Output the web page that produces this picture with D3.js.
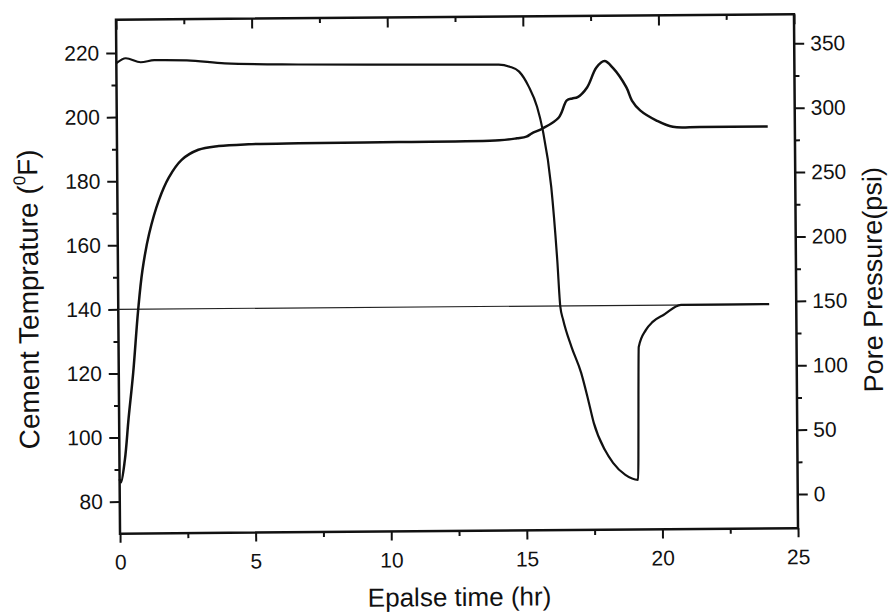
<!DOCTYPE html>
<html>
<head>
<meta charset="utf-8">
<script src="https://cdn.jsdelivr.net/npm/d3@7"></script>
<style>
  html, body { margin: 0; padding: 0; background: #fff; }
  svg { display: block; }
  text { font-family: "Liberation Sans", Arial, sans-serif; fill: #111; }
</style>
</head>
<body>
<svg id="chart" width="891" height="616"></svg>
<script>
// ---- Data ----
const tempTime = [0, 0.05, 0.2, 0.35, 0.53, 0.73, 0.9, 1.16, 1.53, 1.9, 2.38, 3.0, 3.75, 4.85, 6.7, 10.4, 14.1, 14.75, 15.1, 15.3, 15.7, 16.3, 16.6, 16.8, 17.0, 17.35, 17.7, 18.0, 18.3, 18.8, 19.0, 19.3, 19.9, 20.5, 21.5, 24.0];
const temperature = [87, 86, 93, 106, 120, 139.5, 152, 163.5, 174, 181, 186.5, 189.6, 190.7, 191.2, 191.4, 191.5, 191.8, 192.4, 192.9, 193.9, 195.4, 198.8, 204.1, 204.7, 205.1, 208.1, 214.3, 216.3, 214.2, 208, 203.9, 200.8, 197.6, 195.6, 195.5, 195.5];

const pressTime = [0, 0.35, 0.9, 1.4, 2.6, 4.0, 6.7, 10.4, 14.1, 14.5, 14.85, 15.2, 15.5, 15.7, 16.0, 16.2, 16.3, 16.4, 16.7, 17.05, 17.3, 17.5, 17.9, 18.2, 18.65, 19.12, 19.18, 19.45, 19.7, 20.1, 20.75, 24.0];
const porePressure = [338.7, 342.5, 339.3, 340.8, 340.5, 337.9, 336.6, 335.9, 335.3, 333.6, 329.7, 318, 302.3, 284.5, 240, 183.4, 146.9, 136.8, 115.7, 95.4, 74.5, 56.5, 35.5, 25.4, 15.9, 12.0, 115.2, 128.4, 134.6, 139.9, 147.6, 147.7];

const refLineTime = [0, 24.0];
const refLineTemp = [140, 140];

const xTicks = [0, 5, 10, 15, 20, 25];
const xMinorTicks = [2.5, 7.5, 12.5, 17.5, 22.5];
const leftTicks = [80, 100, 120, 140, 160, 180, 200, 220];
const leftMinorTicks = [90, 110, 130, 150, 170, 190, 210];
const rightTicks = [0, 50, 100, 150, 200, 250, 300, 350];
const rightMinorTicks = [25, 75, 125, 175, 225, 275, 325];

const xTitle = "Epalse time (hr)";
const rightTitle = "Pore Pressure(psi)";

// ---- Layout ----
const L = 118, R = 796, T = 17, B = 531;
const svg = d3.select("#chart");
svg.append("rect").attr("width", 891).attr("height", 616).attr("fill", "#fff");
const g = svg.append("g").attr("transform", "rotate(-0.45, 457, 274)");

const x = d3.scaleLinear().domain([0, 25]).range([L, R]);
const yL = d3.scaleLinear().domain([70, 230.4]).range([B, T]);
const yR = d3.scaleLinear().domain([-26.6, 372.5]).range([B, T]);

function styleAxis(sel, showText) {
  sel.select(".domain").remove();
  sel.selectAll(".tick line").attr("stroke", "#111").attr("stroke-width", 2);
  if (!showText) sel.selectAll(".tick text").remove();
  else sel.selectAll(".tick text").attr("font-size", 21).attr("fill", "#111");
}

// bottom axis
g.append("g").attr("transform", `translate(0,${B})`)
  .call(d3.axisBottom(x).tickValues(xTicks).tickSize(9).tickPadding(12).tickFormat(d3.format("d")))
  .call(s => styleAxis(s, true));
g.append("g").attr("transform", `translate(0,${B})`)
  .call(d3.axisBottom(x).tickValues(xMinorTicks).tickSize(5).tickFormat(""))
  .call(s => styleAxis(s, false));
// top axis (inward ticks)
g.append("g").attr("transform", `translate(0,${T})`)
  .call(d3.axisTop(x).tickValues(xTicks).tickSize(-10).tickFormat(""))
  .call(s => styleAxis(s, false));
g.append("g").attr("transform", `translate(0,${T})`)
  .call(d3.axisTop(x).tickValues(xMinorTicks).tickSize(-5).tickFormat(""))
  .call(s => styleAxis(s, false));
// left axis
g.append("g").attr("transform", `translate(${L},0)`)
  .call(d3.axisLeft(yL).tickValues(leftTicks).tickSize(10).tickPadding(7).tickFormat(d3.format("d")))
  .call(s => styleAxis(s, true));
g.append("g").attr("transform", `translate(${L},0)`)
  .call(d3.axisLeft(yL).tickValues(leftMinorTicks).tickSize(5).tickFormat(""))
  .call(s => styleAxis(s, false));
// right axis
g.append("g").attr("transform", `translate(${R},0)`)
  .call(d3.axisRight(yR).tickValues(rightTicks).tickSize(10).tickPadding(6).tickFormat(d3.format("d")))
  .call(s => styleAxis(s, true));
g.append("g").attr("transform", `translate(${R},0)`)
  .call(d3.axisRight(yR).tickValues(rightMinorTicks).tickSize(5).tickFormat(""))
  .call(s => styleAxis(s, false));

// frame
g.append("rect").attr("x", L).attr("y", T).attr("width", R - L).attr("height", B - T)
  .attr("fill", "none").attr("stroke", "#111").attr("stroke-width", 2.5);

// reference line
const refData = refLineTime.map((t, i) => [t, refLineTemp[i]]);
g.append("path").datum(refData)
  .attr("d", d3.line().x(d => x(d[0])).y(d => yL(d[1])))
  .attr("fill", "none").attr("stroke", "#222").attr("stroke-width", 1.2);

// temperature curve
const tempData = tempTime.map((t, i) => [t, temperature[i]]);
g.append("path").datum(tempData)
  .attr("d", d3.line().curve(d3.curveCatmullRom.alpha(0.5)).x(d => x(d[0])).y(d => yL(d[1])))
  .attr("fill", "none").attr("stroke", "#111").attr("stroke-width", 2.5).attr("stroke-linejoin", "round");

// pressure curve
const pData = pressTime.map((t, i) => [t, porePressure[i]]);
g.append("path").datum(pData)
  .attr("d", d3.line().curve(d3.curveMonotoneX).x(d => x(d[0])).y(d => yR(d[1])))
  .attr("fill", "none").attr("stroke", "#111").attr("stroke-width", 2.2).attr("stroke-linejoin", "round");

// titles
g.append("text").attr("x", 457).attr("y", 606).attr("text-anchor", "middle")
  .attr("font-size", 26).text(xTitle);

const lt = g.append("text").attr("transform", "translate(38,296) rotate(-90)")
  .attr("text-anchor", "middle").attr("font-size", 28);
lt.append("tspan").text("Cement Temprature (");
lt.append("tspan").attr("font-size", 17).attr("dy", -12).text("0");
lt.append("tspan").attr("dy", 12).text("F)");

g.append("text").attr("transform", "translate(882,283) rotate(-90)")
  .attr("text-anchor", "middle").attr("font-size", 27).text(rightTitle);
</script>
</body>
</html>
